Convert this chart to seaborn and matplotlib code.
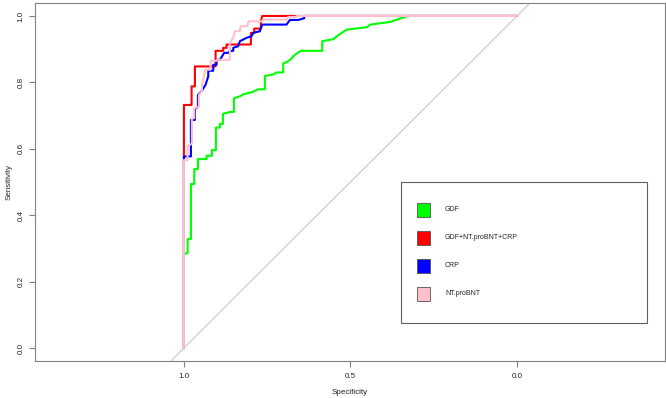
import pandas as pd
import matplotlib
matplotlib.use("Agg")
import matplotlib.pyplot as plt
import matplotlib.patches as mpatches
import seaborn as sns

sns.set_style("ticks")
plt.rcParams['font.family'] = ['Liberation Sans', 'DejaVu Sans']

# ROC curves (specificity, sensitivity)
gdf_spec = [1.0, 1.0, 0.989, 0.989, 0.979, 0.979, 0.969, 0.969, 0.958, 0.958,
            0.932, 0.932, 0.916, 0.916, 0.904, 0.904, 0.892, 0.892, 0.883, 0.883,
            0.862, 0.850, 0.850, 0.832, 0.822, 0.797, 0.777, 0.757, 0.757, 0.732,
            0.721, 0.702, 0.702, 0.692, 0.680, 0.667, 0.649, 0.585, 0.585, 0.552,
            0.534, 0.511, 0.451, 0.441, 0.381, 0.331, 0.321, 0.0]
gdf_sens = [0.0, 0.283, 0.286, 0.328, 0.328, 0.494, 0.494, 0.539, 0.539, 0.569,
            0.569, 0.579, 0.579, 0.596, 0.596, 0.664, 0.664, 0.675, 0.675, 0.705,
            0.711, 0.711, 0.752, 0.758, 0.764, 0.770, 0.779, 0.779, 0.819, 0.824,
            0.830, 0.830, 0.857, 0.861, 0.869, 0.883, 0.895, 0.895, 0.924, 0.930,
            0.944, 0.959, 0.966, 0.974, 0.982, 0.999, 1.0, 1.0]

comb_spec = [1.0, 1.0, 0.977, 0.977, 0.967, 0.967, 0.905, 0.905, 0.882, 0.882,
             0.872, 0.872, 0.799, 0.799, 0.789, 0.789, 0.769, 0.769, 0.765, 0.0]
comb_sens = [0.0, 0.732, 0.732, 0.788, 0.788, 0.848, 0.848, 0.895, 0.895, 0.904,
             0.904, 0.914, 0.914, 0.949, 0.949, 0.962, 0.962, 0.984, 1.0, 1.0]

crp_spec = [1.0, 1.0, 0.979, 0.979, 0.967, 0.967, 0.958, 0.958, 0.947, 0.935,
            0.927, 0.927, 0.912, 0.912, 0.902, 0.902, 0.892, 0.879, 0.865, 0.862,
            0.852, 0.852, 0.837, 0.832, 0.812, 0.797, 0.792, 0.772, 0.765, 0.692,
            0.682, 0.657, 0.639, 0.639, 0.0]
crp_sens = [0.0, 0.577, 0.577, 0.687, 0.687, 0.720, 0.726, 0.762, 0.773, 0.793,
            0.818, 0.835, 0.835, 0.853, 0.853, 0.868, 0.868, 0.889, 0.889, 0.895,
            0.895, 0.904, 0.909, 0.924, 0.934, 0.939, 0.949, 0.954, 0.974, 0.974,
            0.988, 0.988, 0.993, 1.0, 1.0]

bnp_spec = [1.0, 1.0, 0.989, 0.989, 0.976, 0.976, 0.969, 0.969, 0.955, 0.955,
            0.946, 0.946, 0.941, 0.936, 0.921, 0.919, 0.903, 0.901, 0.862, 0.862,
            0.852, 0.847, 0.832, 0.830, 0.810, 0.806, 0.765, 0.762, 0.692, 0.687,
            0.662, 0.662, 0.0]
bnp_sens = [0.0, 0.566, 0.566, 0.607, 0.616, 0.692, 0.692, 0.722, 0.727, 0.762,
            0.773, 0.793, 0.813, 0.838, 0.838, 0.865, 0.865, 0.868, 0.868, 0.919,
            0.934, 0.954, 0.954, 0.969, 0.969, 0.984, 0.984, 0.989, 0.989, 0.997,
            0.997, 1.0, 1.0]

labels = ['GDF', 'GDF+NT.proBNT+CRP', 'CRP', 'NT.proBNT']
colors = ['#00FF00', '#FF0000', '#0000FF', '#FFC0CB']
curves = [(gdf_spec, gdf_sens), (comb_spec, comb_sens),
          (crp_spec, crp_sens), (bnp_spec, bnp_sens)]

fig = plt.figure(figsize=(6.66, 3.98), dpi=100)
ax = fig.add_axes([35/666, 1-361/398, 630/666, 358/398])

ax.axline((1, 0), (0, 1), color='#C8C8C8', lw=0.8, zorder=1)
for (sp, se), c in zip(curves, colors):
    df = pd.DataFrame({'spec': sp, 'sens': se})
    sns.lineplot(data=df, x='spec', y='sens', sort=False, estimator=None,
                 color=c, lw=1.5, ax=ax, zorder=2)

ax.set_xlim(1.447, -0.444)
ax.set_ylim(-0.039, 1.039)
ax.set_xticks([1.0, 0.5, 0.0])
ax.set_xticklabels(['1.0', '0.5', '0.0'])
ax.set_yticks([0, 0.2, 0.4, 0.6, 0.8, 1.0])
ax.set_yticklabels(['0.0', '0.2', '0.4', '0.6', '0.8', '1.0'], rotation=90, va='center')
ax.tick_params(colors='#808080', labelcolor='#222222', length=4, width=0.8,
               labelsize=5.8)
ax.tick_params(axis='x', pad=5)
ax.tick_params(axis='y', pad=3.3)
for s in ax.spines.values():
    s.set_visible(True)
    s.set_color('#808080')
    s.set_linewidth(0.8)
ax.set_xlabel('Specificity', fontsize=5.8, color='#222222', labelpad=6)
ax.set_ylabel('Sensitivity', fontsize=5.8, color='#222222', labelpad=3.5)

# legend box drawn like R's legend()
ax.add_patch(mpatches.Rectangle((0.5805, 0.107), 0.3905, 0.3922, transform=ax.transAxes,
                                fill=False, ec='#606060', lw=0.8, zorder=5))
for i, (lab, c) in enumerate(zip(labels, colors)):
    yc = 0.4218 - i * 0.0782
    ax.add_patch(mpatches.Rectangle((0.6059, yc - 0.0186), 0.0211, 0.0372,
                                    transform=ax.transAxes, fc=c, ec='#505050',
                                    lw=0.6, zorder=6))
    ax.text(0.6508, yc, lab, transform=ax.transAxes, fontsize=5, va='center',
            ha='left', color='#222222')

fig.savefig('out.png', dpi=100)
